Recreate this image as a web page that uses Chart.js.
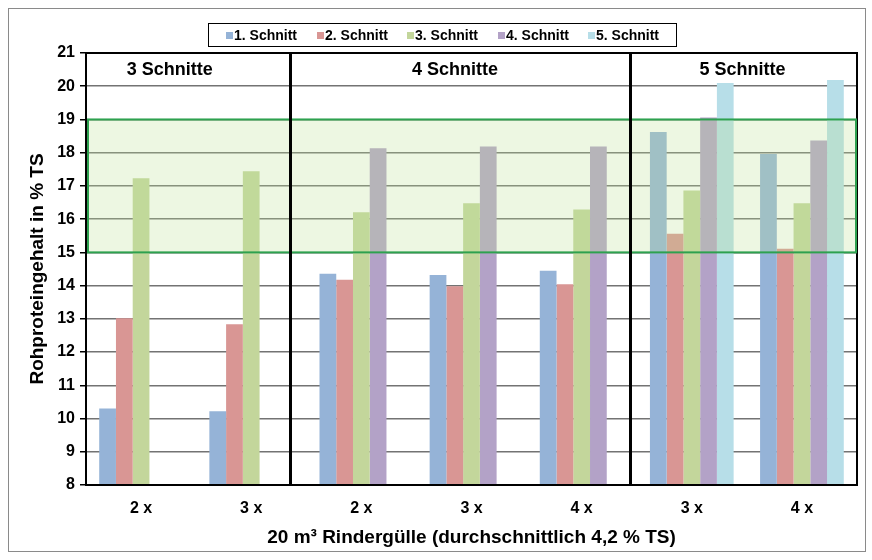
<!DOCTYPE html>
<html>
<head>
<meta charset="utf-8">
<script src="https://cdn.jsdelivr.net/npm/chart.js@4/dist/chart.umd.min.js"></script>
<style>
  html, body { margin: 0; padding: 0; background: #fff; }
  #wrap { width: 872px; height: 560px; }
</style>
</head>
<body>
<div id="wrap"><canvas id="c" width="872" height="560"></canvas></div>
<script>
// Rohproteingehalt (% TS) je Schnitt, nach Anzahl Gülleausbringungen
const categories = ['2 x', '3 x', '2 x', '3 x', '4 x', '3 x', '4 x'];
const schnitt1 = [10.30, 10.22, 14.36, 14.32, 14.45, 18.62, 17.96];
const schnitt2 = [13.02, 12.84, 14.18, 13.98, 14.04, 15.56, 15.11];
const schnitt3 = [17.23, 17.44, 16.21, 16.48, 16.29, 16.86, 16.48];
const schnitt4 = [null, null, 18.13, 18.19, 18.19, 19.06, 18.37];
const schnitt5 = [null, null, null, null, null, 20.10, 20.19];
const seriesNames = ['1. Schnitt', '2. Schnitt', '3. Schnitt', '4. Schnitt', '5. Schnitt'];
const yTickRange = [8, 21];
const targetBand = [15, 19];          // Zielbereich Rohprotein
const groupLabels = ['3 Schnitte', '4 Schnitte', '5 Schnitte'];

const seriesColors = ['#95B3D7', '#D99694', '#C3D69B', '#B3A2C7', '#B7DEE8'];
const FONT = "'Liberation Sans', Arial, sans-serif";

// positions along the category axis (index units) for headers and dividers
const groupLabelAt = [0.26, 2.85, 5.46];
const dividerAt = [1.355, 4.436];

const seriesData = [schnitt1, schnitt2, schnitt3, schnitt4, schnitt5];

const decorPlugin = {
  id: 'decor',
  beforeDraw(chart) {
    const ctx = chart.ctx;
    ctx.save();
    ctx.fillStyle = '#fff';
    ctx.fillRect(0, 0, chart.width, chart.height);
    ctx.strokeStyle = '#8a8a8a';
    ctx.lineWidth = 1;
    ctx.strokeRect(8.5, 8.5, 857, 543);
    ctx.restore();
  },
  afterDatasetsDraw(chart) {
    const ctx = chart.ctx;
    const { left, right, top, bottom } = chart.chartArea;
    const x = chart.scales.x, y = chart.scales.y;
    ctx.save();
    // target band fill
    const yTop = y.getPixelForValue(targetBand[1]);
    const yBot = y.getPixelForValue(targetBand[0]);
    ctx.fillStyle = 'rgba(190,225,150,0.28)';
    ctx.fillRect(left, yTop, right - left, yBot - yTop);
    // plot frame
    ctx.strokeStyle = '#000';
    ctx.lineWidth = 2;
    ctx.strokeRect(left, top, right - left, bottom - top);
    // target band outline, just inside the frame
    ctx.strokeStyle = '#2DA14F';
    ctx.lineWidth = 2;
    ctx.strokeRect(left + 2, yTop, right - left - 3, yBot - yTop);
    // group dividers
    ctx.strokeStyle = '#000';
    ctx.lineWidth = 3;
    dividerAt.forEach(v => {
      const px = Math.round(x.getPixelForValue(v)) + 0.5;
      ctx.beginPath();
      ctx.moveTo(px, top);
      ctx.lineTo(px, bottom);
      ctx.stroke();
    });
    // group headers
    ctx.fillStyle = '#000';
    ctx.font = 'bold 18px ' + FONT;
    ctx.textAlign = 'center';
    ctx.textBaseline = 'middle';
    groupLabels.forEach((t, i) => {
      ctx.fillText(t, x.getPixelForValue(groupLabelAt[i]), y.getPixelForValue(20.5));
    });
    ctx.restore();
  },
  afterDraw(chart) {
    // legend box
    const ctx = chart.ctx;
    ctx.save();
    ctx.fillStyle = '#fff';
    ctx.fillRect(208, 23, 469, 24);
    ctx.strokeStyle = '#000';
    ctx.lineWidth = 1;
    ctx.strokeRect(208.5, 23.5, 468, 23);
    ctx.font = 'bold 14px ' + FONT;
    ctx.textBaseline = 'middle';
    ctx.textAlign = 'left';
    chart.data.datasets.forEach((ds, i) => {
      const sx = Math.round(226 + i * 90.5);
      ctx.fillStyle = ds.backgroundColor;
      ctx.fillRect(sx, 32, 7, 7);
      ctx.fillStyle = '#000';
      ctx.fillText(ds.label, sx + 8, 36);
    });
    ctx.restore();
  }
};

new Chart(document.getElementById('c'), {
  type: 'bar',
  data: {
    labels: categories,
    datasets: seriesNames.map((name, i) => ({
      label: name,
      data: seriesData[i],
      backgroundColor: seriesColors[i],
      borderWidth: 0,
      categoryPercentage: 0.76,
      barPercentage: 1.0
    }))
  },
  options: {
    responsive: false,
    animation: false,
    devicePixelRatio: 1,
    layout: { padding: { top: 53, right: 15, bottom: 0, left: 0 } },
    plugins: {
      legend: { display: false },
      tooltip: { enabled: false }
    },
    scales: {
      x: {
        grid: { display: false, drawTicks: false },
        border: { display: false },
        ticks: { color: '#000', font: { family: FONT, size: 16, weight: 'bold' }, padding: 14 },
        title: {
          display: true,
          text: '20 m³ Rindergülle (durchschnittlich 4,2 % TS)',
          color: '#000',
          font: { family: FONT, size: 19, weight: 'bold' },
          padding: { top: 0, bottom: 11 }
        },
        afterFit(scale) { scale.height = 75; }
      },
      y: {
        min: yTickRange[0],
        max: yTickRange[1],
        ticks: { stepSize: 1, color: '#000', font: { family: FONT, size: 16, weight: 'bold' }, padding: 5 },
        grid: { color: '#737373', lineWidth: 1.5, tickColor: '#000', tickLength: 6, drawTicks: true },
        border: { display: false },
        title: {
          display: true,
          text: 'Rohproteingehalt in % TS',
          color: '#000',
          font: { family: FONT, size: 19, weight: 'bold' },
          padding: { top: 26, bottom: 0 }
        },
        afterFit(scale) { scale.width = 86; }
      }
    }
  },
  plugins: [decorPlugin]
});
</script>
</body>
</html>
